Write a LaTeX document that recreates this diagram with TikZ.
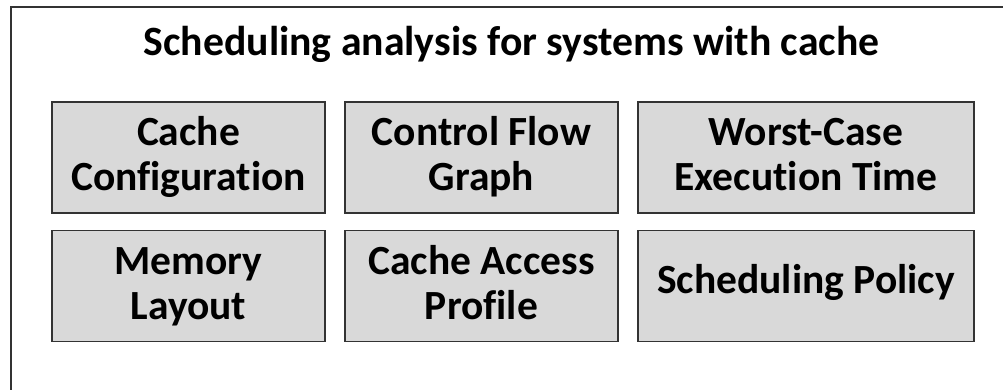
\documentclass[tikz,border=0pt]{standalone}
\usepackage{fontspec}
\setmainfont{Carlito}[Ligatures=NoCommon]
\definecolor{boxfill}{HTML}{D9D9D9}
\definecolor{boxline}{HTML}{333333}
% invisible struts that fix the height and depth of each text line
\newcommand\linestrut{\rule[-9pt]{0pt}{39pt}}
\newcommand\singlestrut{\rule[-16pt]{0pt}{46pt}}
\tikzset{
  card/.style={draw=boxline, line width=1.8pt, fill=boxfill, align=center,
    minimum height=111pt, inner sep=0pt,
    font=\bfseries\fontsize{41.5}{45}\selectfont},
  frameline/.style={draw=boxline, line width=1.4pt}
}
\begin{document}
\begin{tikzpicture}[x=1pt, y=-1pt]
  \useasboundingbox (0,0) rectangle (1003,390);
  \begin{scope}
    \clip (0,0) rectangle (1003,390);
    % outer frame, running off the right and bottom edges
    \draw[frameline] (1020,7) -- (11,7) -- (11,400);
  \end{scope}
  \node[font=\bfseries\fontsize{41.7}{45}\selectfont, anchor=base, inner sep=0pt]
    (title) at (511.5,56) {Scheduling analysis for systems with cache};
  % first row
  \node[card, minimum width=273pt] (cc)  at (188.5,157.5)
    {\linestrut Cache\\\linestrut Configuration};
  \node[card, minimum width=273pt] (cfg) at (481.5,157.5)
    {\linestrut Control Flow\\\linestrut Graph};
  \node[card, minimum width=336pt] (wcet) at (806,157.5)
    {\linestrut Worst-Case\\\linestrut Execution Time};
  % second row
  \node[card, minimum width=273pt] (ml)  at (188.5,286)
    {\linestrut Memory\\\linestrut Layout};
  \node[card, minimum width=273pt] (cap) at (481.5,286)
    {\linestrut Cache Access\\\linestrut Profile};
  \node[card, minimum width=336pt] (sp)  at (806,286)
    {\singlestrut Scheduling Policy};
\end{tikzpicture}
\end{document}
